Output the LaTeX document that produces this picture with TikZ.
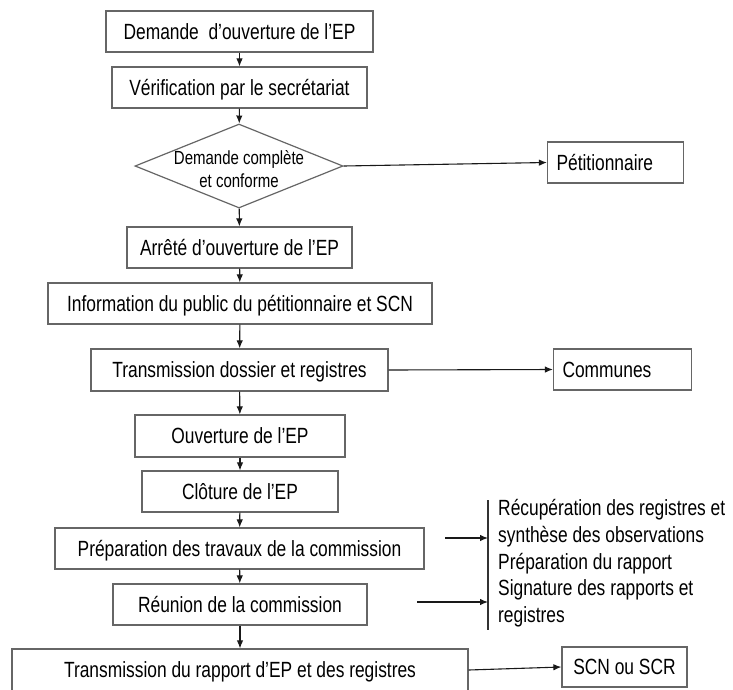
\documentclass[tikz,border=0pt]{standalone}
\usepackage{fontspec}
\setmainfont{Liberation Sans}[FakeStretch=0.79]
\usepackage{tikz}
\usetikzlibrary{shapes.geometric, arrows.meta, positioning, calc}
\tikzset{
  stepbox/.style={
    draw=black!60, line width=1.2pt, fill=white, align=center,
    font=\fontsize{22}{26}\selectfont, minimum height=41pt, inner sep=0pt,
    text height=15.8pt, text depth=0pt
  },
  sidebox/.style={
    stepbox, text width=118pt, align=left, inner xsep=9pt
  },
  decision/.style={
    diamond, draw=black!60, line width=1.2pt, fill=white,
    minimum width=208pt, minimum height=84pt, inner sep=0pt
  },
  flowarrow/.style={
    -{Latex[length=8pt,width=6.5pt]}, line width=1.1pt, color=black!90
  },
  notelist/.style={
    align=left, anchor=north west, inner sep=0pt,
    font=\fontsize{22}{26.8}\selectfont
  },
}

\begin{document}
\begin{tikzpicture}[x=1pt, y=-1pt]
  \useasboundingbox (0,0) rectangle (733,689);

  % -- main chain --
  \node[stepbox, minimum width=267pt] (demande) at (239.5,31.5)
    {Demande \ d’ouverture de l’EP};
  \node[stepbox, minimum width=255pt] (verif) at (239.5,87.5)
    {Vérification par le secrétariat};
  \node[decision, label={[align=center, font=\fontsize{19}{23}\selectfont,
      yshift=-3pt]center:Demande complète\\et conforme}] (cond) at (239,166) {};
  \node[stepbox, minimum width=225pt] (arrete) at (239.5,247.5)
    {Arrêté d’ouverture de l’EP};
  \node[stepbox, minimum width=384pt] (info) at (240,303.5)
    {Information du public du pétitionnaire et SCN};
  \node[stepbox, minimum width=297pt, minimum height=42pt] (transm) at (239.5,370)
    {Transmission dossier et registres};
  \node[stepbox, minimum width=210pt, minimum height=42pt] (ouverture) at (240,436)
    {Ouverture de l’EP};
  \node[stepbox, minimum width=196pt] (cloture) at (240,491.5)
    {Clôture de l’EP};
  \node[stepbox, minimum width=369pt] (prep) at (239.5,548.5)
    {Préparation des travaux de la commission};
  \node[stepbox, minimum width=254pt] (reunion) at (240,604.5)
    {Réunion de la commission};
  \node[stepbox, minimum width=456pt, minimum height=42pt] (final) at (240,670)
    {Transmission du rapport d’EP et des registres};

  \draw[flowarrow] (demande) -- (verif);
  \draw[flowarrow] (verif) -- (cond);
  \draw[flowarrow] (cond) -- (arrete);
  \draw[flowarrow] (arrete) -- (info);
  \draw[flowarrow] (info) -- (transm);
  \draw[flowarrow] (transm) -- (ouverture);
  \draw[flowarrow] (ouverture) -- (cloture);
  \draw[flowarrow] (cloture) -- (prep);
  \draw[flowarrow] (prep) -- (reunion);
  \draw[flowarrow] (reunion) -- (final);

  % -- side outputs --
  \node[sidebox] (petit) at (615.5,162.5) {Pétitionnaire};
  \node[sidebox, text width=120pt] (communes) at (622.5,369.5) {Communes};
  \node[stepbox, minimum width=125pt, minimum height=40pt] (scn) at (624.5,667)
    {SCN ou SCR};

  \draw[flowarrow] (cond.east) -- (petit.west);
  \draw[flowarrow] (transm.east) -- (communes.west);
  \draw[flowarrow] (final.east) -- (scn.west);

  % -- commission tasks --
  \coordinate (bractop) at (488,500);
  \coordinate (bracbot) at (488,630);
  \draw[line width=1.1pt, color=black!80] (bractop) -- (bracbot);
  \node[notelist] (tasks) at (498,499)
    {Récupération des registres et\\synthèse des observations\\
     Préparation du rapport\\Signature des rapports et\\registres};

  \coordinate (prepin) at (445,538);
  \coordinate (reunin) at (417,602);
  \draw[flowarrow] (prepin) -- (prepin -| bractop);
  \draw[flowarrow] (reunin) -- (reunin -| bractop);
\end{tikzpicture}
\end{document}
